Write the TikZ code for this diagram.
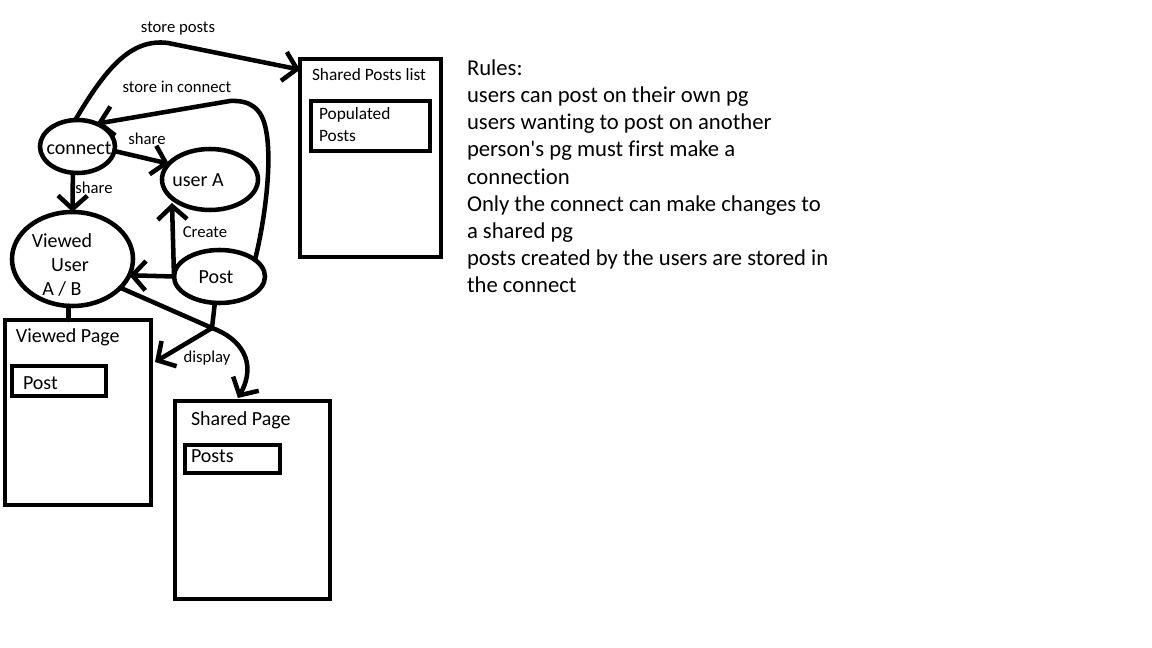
\documentclass[tikz,border=0pt]{standalone}
\usepackage{fontspec}
\setmainfont{Carlito}[Ligatures={NoCommon}]
\usetikzlibrary{arrows.meta,shapes.geometric}
\begin{document}
\begin{tikzpicture}[x=0.75pt,y=-0.75pt,
  every node/.style={inner sep=0pt, outer sep=0pt},
  line/.style={line width=3.4pt, line cap=round, line join=round},
  arr/.style={line, -{Straight Barb[length=10pt,width=22pt,line width=3.4pt]}},
  ell/.style={draw, ellipse, line width=3.4pt},
  box/.style={draw, rectangle, line width=3.4pt, anchor=north west},
  lab/.style={font=\fontsize{12.5}{15}\selectfont},
  big/.style={font=\fontsize{15}{18}\selectfont},
  mid/.style={font=\fontsize{13}{16}\selectfont},
]
\useasboundingbox (0,0) rectangle (1152,648);
\fill[white] (0,0) rectangle (1152,648);

% ellipses
\node[ell, minimum width=56.25pt, minimum height=39.75pt] (conn) at (77.5,146.5) {};
\node[big] at (79,148) {connect};
\node[ell, minimum width=72pt, minimum height=45.75pt] (usera) at (210,179.5) {};
\node[big] at (198,180) {user A};
\node[ell, minimum width=90.75pt, minimum height=70.5pt] (vu) at (72.5,259) {};
\node[big] (vut1) at (62,241) {Viewed};
\node[big] (vut2) at (70,265) {User};
\node[big] (vut3) at (62,289) {A / B};
\node[ell, minimum width=68.25pt, minimum height=39.75pt] (post) at (219.5,276.5) {};
\node[big] at (216,277) {Post};

% boxes
\node[box, minimum width=105.75pt, minimum height=148.5pt] (spl) at (300,59) {};
\node[mid, anchor=west] at (312,75) {Shared Posts list};
\node[box, minimum width=89.25pt, minimum height=37.5pt] (spli) at (311,101) {};
\node[mid, anchor=west] at (319,115) {Populated};
\node[mid, anchor=west] at (319,136) {Posts};

\node[box, minimum width=109.5pt, minimum height=138.75pt] (vp) at (5,320) {};
\node[big, anchor=west] at (16,337) {Viewed Page};
\node[box, minimum width=70.5pt, minimum height=22.5pt] (vpi) at (12,366) {};
\node[big, anchor=west] at (23,383) {Post};

\node[box, minimum width=116.25pt, minimum height=148.5pt] (sp) at (175,401) {};
\node[big, anchor=west] at (191,420) {Shared Page};
\node[box, minimum width=71.25pt, minimum height=21pt] (spi) at (185,445) {};
\node[big, anchor=west] at (191,456) {Posts};

% rules
\node[font=\fontsize{17}{20.3}\selectfont, anchor=north west, align=left] (rules) at (467,60) {Rules:\\
users can post on their own pg\\
users wanting to post on another\\
person\textquotesingle s pg must first make a\\
connection\\
Only the connect can make changes to\\
a shared pg\\
posts created by the users are stored in\\
the connect};

% coordinates
\coordinate (sptop) at (168,43);
\coordinate (ctip) at (172,203);
\coordinate (J) at (212,328);
\coordinate (vpin) at (155,362);
\coordinate (sptip) at (238,398);

% connectors
\draw[arr] (conn.95) .. controls (105,70) and (130,38) .. (sptop) -- ([yshift=-8pt]spl.north west);
\node[lab] at (178,29) {store posts};

\draw[arr] (post.25) .. controls (266,215) and (272,160) .. (266,130) .. controls (262,108) and (250,100) .. (230,101) -- (conn.50);
\node[lab] at (177,87) {store in connect};

\draw[arr] (conn.-7) -- (usera.159);
\node[lab] at (147,139) {share};

\draw[arr] (conn.-100) -- (vu.north);
\node[lab] at (94,188) {share};

\draw[arr] (post.west) -- (vu.-16);
\draw[arr] (post.west) -- (ctip);
\node[lab] at (205,232) {Create};

\draw[line] (vu.-31) -- (J);
\draw[line] (post.-100) -- (J);
\draw[arr] (J) -- (vpin);
\draw[arr] (J) .. controls (240,338) and (258,362) .. (sptip);
\node[lab] at (207,358) {display};

\draw[line] (vu.-95) -- (vu.-95 |- vp.north);
\end{tikzpicture}
\end{document}
